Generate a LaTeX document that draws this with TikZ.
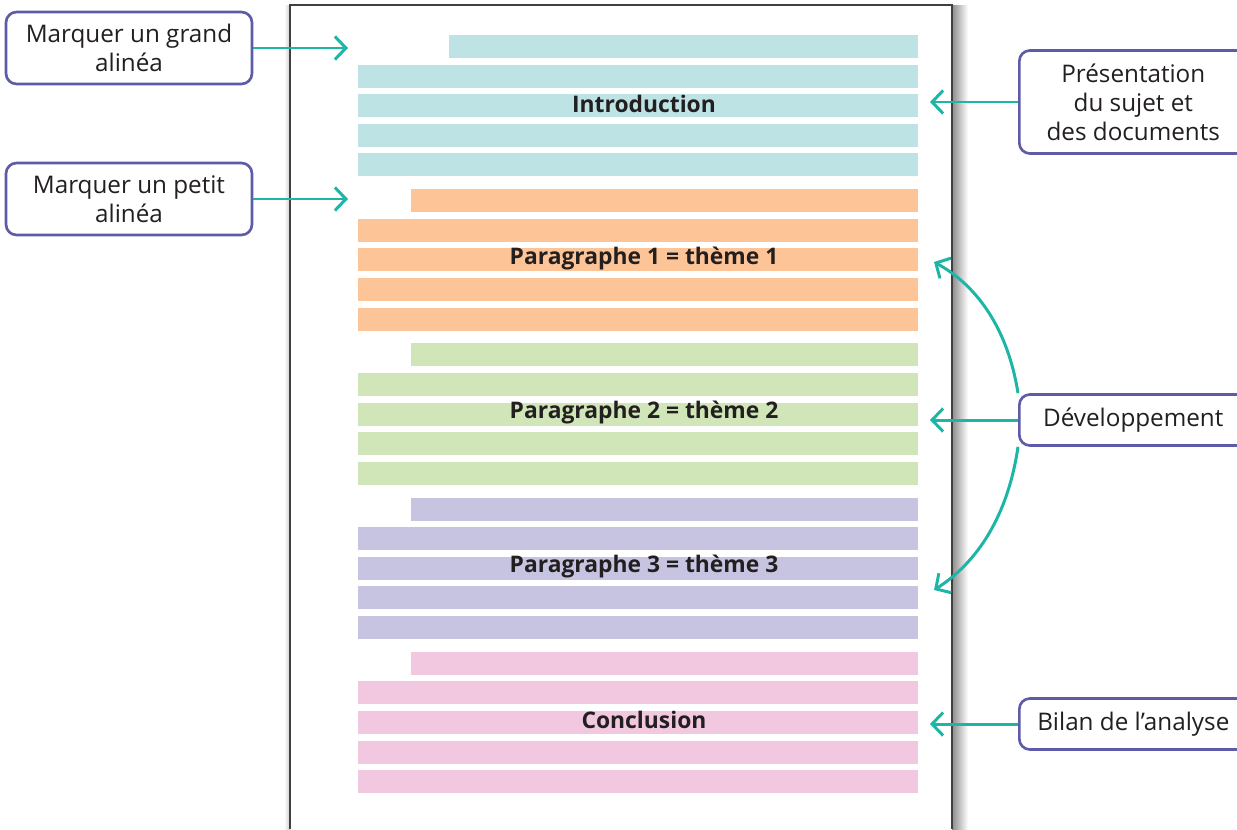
\documentclass[tikz,border=0pt]{standalone}
\usepackage{fontspec}
\setmainfont{Open Sans}
\usetikzlibrary{arrows.meta,positioning}
\definecolor{introcol}{HTML}{BDE3E5}
\definecolor{paraAcol}{HTML}{FDC597}
\definecolor{paraBcol}{HTML}{D0E6B8}
\definecolor{paraCcol}{HTML}{C7C4E2}
\definecolor{conclcol}{HTML}{F1C8E0}
\definecolor{arrowcol}{HTML}{1DB5A6}
\definecolor{boxline}{HTML}{5E5BA8}
\definecolor{textcol}{HTML}{231F20}
\begin{document}
\begin{tikzpicture}[x=0.02cm,y=-0.02cm,
  labelbox/.style={draw=boxline,line width=1.5pt,rounded corners=6pt,fill=white,align=center,
    text=textcol,font=\fontsize{13.8}{16.5}\selectfont,inner sep=0pt},
  pointer/.style={draw=arrowcol,line width=1.7pt,-{Straight Barb[length=2.2mm,width=4.6mm]}},
  title/.style={font=\bfseries\fontsize{13}{16}\selectfont,text=textcol}]
\useasboundingbox (0,0) rectangle (1237,829);

% page
\shade[left color=black!45,right color=white] (952,5) rectangle (968,829);
\shade[left color=white,right color=black!20] (284,5) rectangle (290,829);
\draw[black!75,line width=1.2pt] (290,829) -- (290,5) -- (952,5) -- (952,829);

% text lines
\foreach \col/\start [count=\g from 0] in {introcol/449,paraAcol/411,paraBcol/411,paraCcol/411,conclcol/411}{
  \pgfmathsetmacro\top{35+154.2*\g}
  \fill[\col] (\start,\top) rectangle (918,\top+23);
  \foreach \k in {1,...,4}
    \fill[\col] (358,\top+29.6*\k) rectangle (918,\top+29.6*\k+23);
}

\node[title] (intro) at (644,104) {Introduction};
\node[title] (para1) at (644,258) {Paragraphe 1 = thème 1};
\node[title] (para2) at (644,412) {Paragraphe 2 = thème 2};
\node[title] (para3) at (644,566) {Paragraphe 3 = thème 3};
\node[title] (concl) at (644,720) {Conclusion};

% left notes
\node[labelbox,minimum width=4.92cm,minimum height=1.44cm] (grand) at (129,48) {Marquer un grand\\alinéa};
\node[labelbox,minimum width=4.92cm,minimum height=1.44cm] (petit) at (129,199) {Marquer un petit\\alinéa};
\coordinate (grandtip) at (348,48);
\coordinate (petittip) at (348,199);
\draw[pointer] (grand) -- (grandtip);
\draw[pointer] (petit) -- (petittip);

% right notes
\node[labelbox,anchor=west,minimum width=4.56cm,minimum height=2.06cm] (present) at (1018,102) {Présentation\\du sujet et\\des documents};
\node[labelbox,anchor=west,minimum width=4.56cm,minimum height=1.02cm] (dev) at (1018,420) {Développement};
\node[labelbox,anchor=west,minimum width=4.56cm,minimum height=1.02cm] (bilan) at (1018,724) {Bilan de l’analyse};
\coordinate (presenttip) at (930,102);
\coordinate (devtip) at (930,420);
\coordinate (devtop) at (934,262);
\coordinate (devbottom) at (934,590);
\coordinate (bilantip) at (930,724);
\draw[pointer] (present) -- (presenttip);
\draw[pointer] (dev) -- (devtip);
\draw[pointer] (bilan) -- (bilantip);
\draw[pointer] (dev.north west) .. controls (1008,330) and (978,286) .. (devtop);
\draw[pointer] (dev.south west) .. controls (1008,515) and (978,562) .. (devbottom);
\end{tikzpicture}
\end{document}
